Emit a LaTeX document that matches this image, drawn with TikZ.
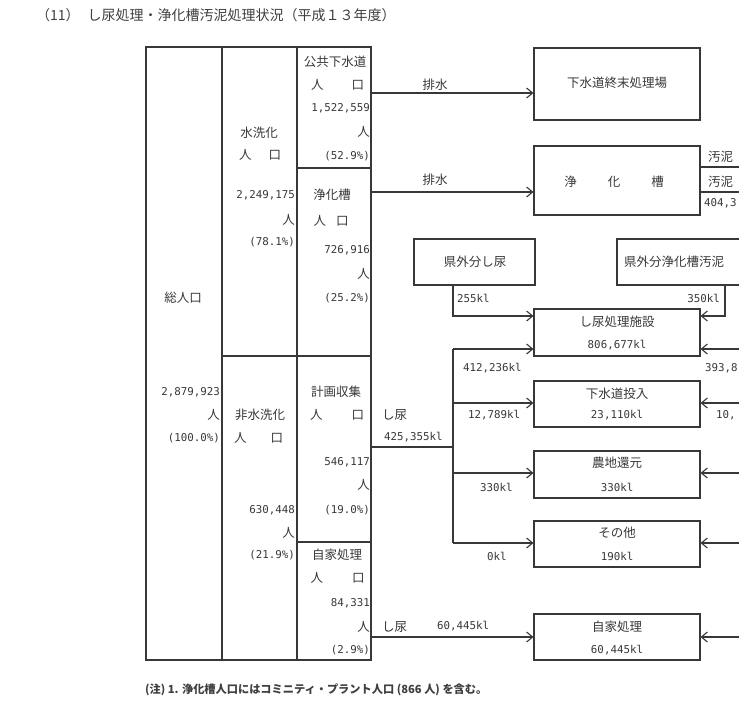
\documentclass[tikz,border=0pt]{standalone}
\usepackage{fontspec}
\setmainfont{Noto Sans CJK JP}
\newfontfamily\numf{DejaVu Sans Mono}
\usetikzlibrary{arrows.meta}
\begin{document}
\begin{tikzpicture}[x=1pt,y=-1pt,
  ln/.style={draw=black!78, line width=1.1pt},
  arr/.style={ln, -{Straight Barb[length=6pt,width=10pt]}},
  box/.style={ln, rectangle, inner sep=0pt},
  jt/.style={font={\fontsize{12.5}{13}\selectfont}, text=black!78, inner sep=0pt},
  nt/.style={font={\numf\fontsize{10.8}{11}\selectfont}, text=black!78, inner sep=0pt},
]
\useasboundingbox (0,0) rectangle (739,702);
\fill[white] (0,0) rectangle (739,702);
\clip (0,0) rectangle (739,702);

% title
\node[anchor=west, inner sep=0pt, text=black!75, font={\fontsize{14}{14}\selectfont}] (title) at (36,15) {（11）\hspace{8pt}し尿処理・浄化槽汚泥処理状況（平成１３年度）};

% table
\draw[ln] (146,47) rectangle (371,660);
\draw[ln] (222,47) -- (222,660);
\draw[ln] (297,47) -- (297,660);
\draw[ln] (297,168) -- (371,168);
\draw[ln] (222,356) -- (371,356);
\draw[ln] (297,542) -- (371,542);

% col 0
\node[jt] (c0a) at (183,298) {総人口};
\node[nt, anchor=east] (c0b) at (220,392) {2,879,923};
\node[jt, anchor=east] (c0c) at (220,415) {人};
\node[nt, anchor=east] (c0d) at (220,438) {(100.0\%)};

% col 1 top
\node[jt] (c1a) at (259,133) {水洗化};
\node[jt] (c1b) at (260,155) {人\hspace{17pt}口};
\node[nt, anchor=east] (c1c) at (295,195) {2,249,175};
\node[jt, anchor=east] (c1d) at (295,220) {人};
\node[nt, anchor=east] (c1e) at (295,242) {(78.1\%)};
% col 1 bottom
\node[jt] (c1f) at (260,415) {非水洗化};
\node[jt] (c1g) at (258.5,438) {人\hspace{24pt}口};
\node[nt, anchor=east] (c1h) at (295,510) {630,448};
\node[jt, anchor=east] (c1i) at (295,533) {人};
\node[nt, anchor=east] (c1j) at (295,555) {(21.9\%)};

% col 2
\node[jt] (c2a) at (335,62) {公共下水道};
\node[jt] (c2b) at (337.5,85) {人\hspace{28pt}口};
\node[nt, anchor=east] (c2c) at (370,108) {1,522,559};
\node[jt, anchor=east] (c2d) at (370,132) {人};
\node[nt, anchor=east] (c2e) at (370,156) {(52.9\%)};

\node[jt] (c2f) at (332,195) {浄化槽};
\node[jt] (c2g) at (331,221) {人\hspace{10pt}口};
\node[nt, anchor=east] (c2h) at (370,250) {726,916};
\node[jt, anchor=east] (c2i) at (370,274) {人};
\node[nt, anchor=east] (c2j) at (370,298) {(25.2\%)};

\node[jt] (c2k) at (336,392) {計画収集};
\node[jt] (c2l) at (337,415) {人\hspace{29pt}口};
\node[nt, anchor=east] (c2m) at (370,462) {546,117};
\node[jt, anchor=east] (c2n) at (370,485) {人};
\node[nt, anchor=east] (c2o) at (370,510) {(19.0\%)};

\node[jt] (c2p) at (337,555) {自家処理};
\node[jt] (c2q) at (337.5,578) {人\hspace{29pt}口};
\node[nt, anchor=east] (c2r) at (370,603) {84,331};
\node[jt, anchor=east] (c2s) at (370,627) {人};
\node[nt, anchor=east] (c2t) at (370,650) {(2.9\%)};

% boxes
\node[box, minimum width=166pt, minimum height=72pt] (gesui) at (617,84) {};
\node[box, minimum width=166pt, minimum height=69pt] (jokaso) at (617,180.5) {};
\node[box, minimum width=121pt, minimum height=46pt] (kengai1) at (474.5,262) {};
\node[box, minimum width=163pt, minimum height=46pt] (kengai2) at (698.5,262) {};
\node[box, minimum width=166pt, minimum height=47pt] (shinyo) at (617,332.5) {};
\node[box, minimum width=166pt, minimum height=46pt] (tonyu) at (617,404) {};
\node[box, minimum width=166pt, minimum height=47pt] (nochi) at (617,474.5) {};
\node[box, minimum width=166pt, minimum height=46pt] (sonota) at (617,544) {};
\node[box, minimum width=166pt, minimum height=46pt] (jika) at (617,637) {};

% box texts
\node[jt] (tg) at (617,83) {下水道終末処理場};
\node[jt] (tj) at (614,182) {浄\hspace{31pt}化\hspace{31pt}槽};
\node[jt] (tk1) at (475,262) {県外分し尿};
\node[jt, anchor=west] (tk2) at (624,262) {県外分浄化槽汚泥};
\node[jt] (ts1) at (617,322) {し尿処理施設};
\node[nt] (ts2) at (617,345) {806,677kl};
\node[jt] (tt1) at (617,394) {下水道投入};
\node[nt] (tt2) at (617,415) {23,110kl};
\node[jt] (tn1) at (617,463) {農地還元};
\node[nt] (tn2) at (617,487) {330kl};
\node[jt] (to1) at (617,533) {その他};
\node[nt] (to2) at (617,556) {190kl};
\node[jt] (tz1) at (617,627) {自家処理};
\node[nt] (tz2) at (617,650) {60,445kl};

% connectors from table
\coordinate (e1) at (371,93);
\coordinate (e2) at (371,192);
\coordinate (e3) at (371,447);
\coordinate (e4) at (371,637);
\coordinate (tr) at (453,447);
\draw[arr] (e1) -- (e1 -| gesui.west);
\draw[arr] (e2) -- (e2 -| jokaso.west);
\node[jt] (lb1) at (435,85) {排水};
\node[jt] (lb2) at (435,180) {排水};

\draw[ln] (e3) -- (tr);
\node[jt, anchor=west] (lb3) at (382,415) {し尿};
\node[nt, anchor=west] (lb4) at (384,437) {425,355kl};
\coordinate (ta) at (453,349);
\coordinate (tb) at (453,403);
\coordinate (tc) at (453,473);
\coordinate (td) at (453,543);
\draw[ln] (ta) -- (td);
\draw[arr] (ta) -- (ta -| shinyo.west);
\draw[arr] (tb) -- (tb -| tonyu.west);
\draw[arr] (tc) -- (tc -| nochi.west);
\draw[arr] (td) -- (td -| sonota.west);
\node[nt, anchor=west] (lb5) at (463,368) {412,236kl};
\node[nt, anchor=west] (lb6) at (468,415) {12,789kl};
\node[nt, anchor=west] (lb7) at (480,487) {330kl};
\node[nt, anchor=west] (lb8) at (487,556) {0kl};

\draw[arr] (e4) -- (e4 -| jika.west);
\node[jt, anchor=west] (lb9) at (382,627) {し尿};
\node[nt, anchor=west] (lb10) at (437,626) {60,445kl};

% from kengai boxes
\coordinate (k1) at (453,316);
\coordinate (k2) at (725,316);
\draw[arr] (kengai1.south -| k1) -- (k1) -- (k1 -| shinyo.west);
\draw[arr] (kengai2.south -| k2) -- (k2) -- (k2 -| shinyo.east);
\node[nt, anchor=west] (lb11) at (457,298) {255kl};
\node[nt, anchor=east] (lb12) at (720,298) {350kl};

% right side incoming
\coordinate (r1) at (739,349);
\coordinate (r2) at (739,403);
\coordinate (r3) at (739,473);
\coordinate (r4) at (739,543);
\coordinate (r5) at (739,637);
\draw[arr] (r1) -- (r1 -| shinyo.east);
\draw[arr] (r2) -- (r2 -| tonyu.east);
\draw[arr] (r3) -- (r3 -| nochi.east);
\draw[arr] (r4) -- (r4 -| sonota.east);
\draw[arr] (r5) -- (r5 -| jika.east);
\node[nt, anchor=west] (lb13) at (705,368) {393,8};
\node[nt, anchor=west] (lb14) at (716,415) {10,};

% sludge from jokaso
\coordinate (s1) at (739,167);
\coordinate (s2) at (739,192);
\draw[ln] (jokaso.east |- s1) -- (s1);
\draw[ln] (jokaso.east |- s2) -- (s2);
\node[jt, anchor=west] (lb15) at (708,157) {汚泥};
\node[jt, anchor=west] (lb16) at (708,182) {汚泥};
\node[nt, anchor=west] (lb17) at (704,203) {404,3};

% footnote
\node[anchor=west, inner sep=0pt, text=black!75, font={\bfseries\fontsize{11.2}{12}\selectfont}] (note) at (145,690) {(注) 1. 浄化槽人口にはコミニティ・プラント人口 (866 人) を含む。};
\end{tikzpicture}
\end{document}
